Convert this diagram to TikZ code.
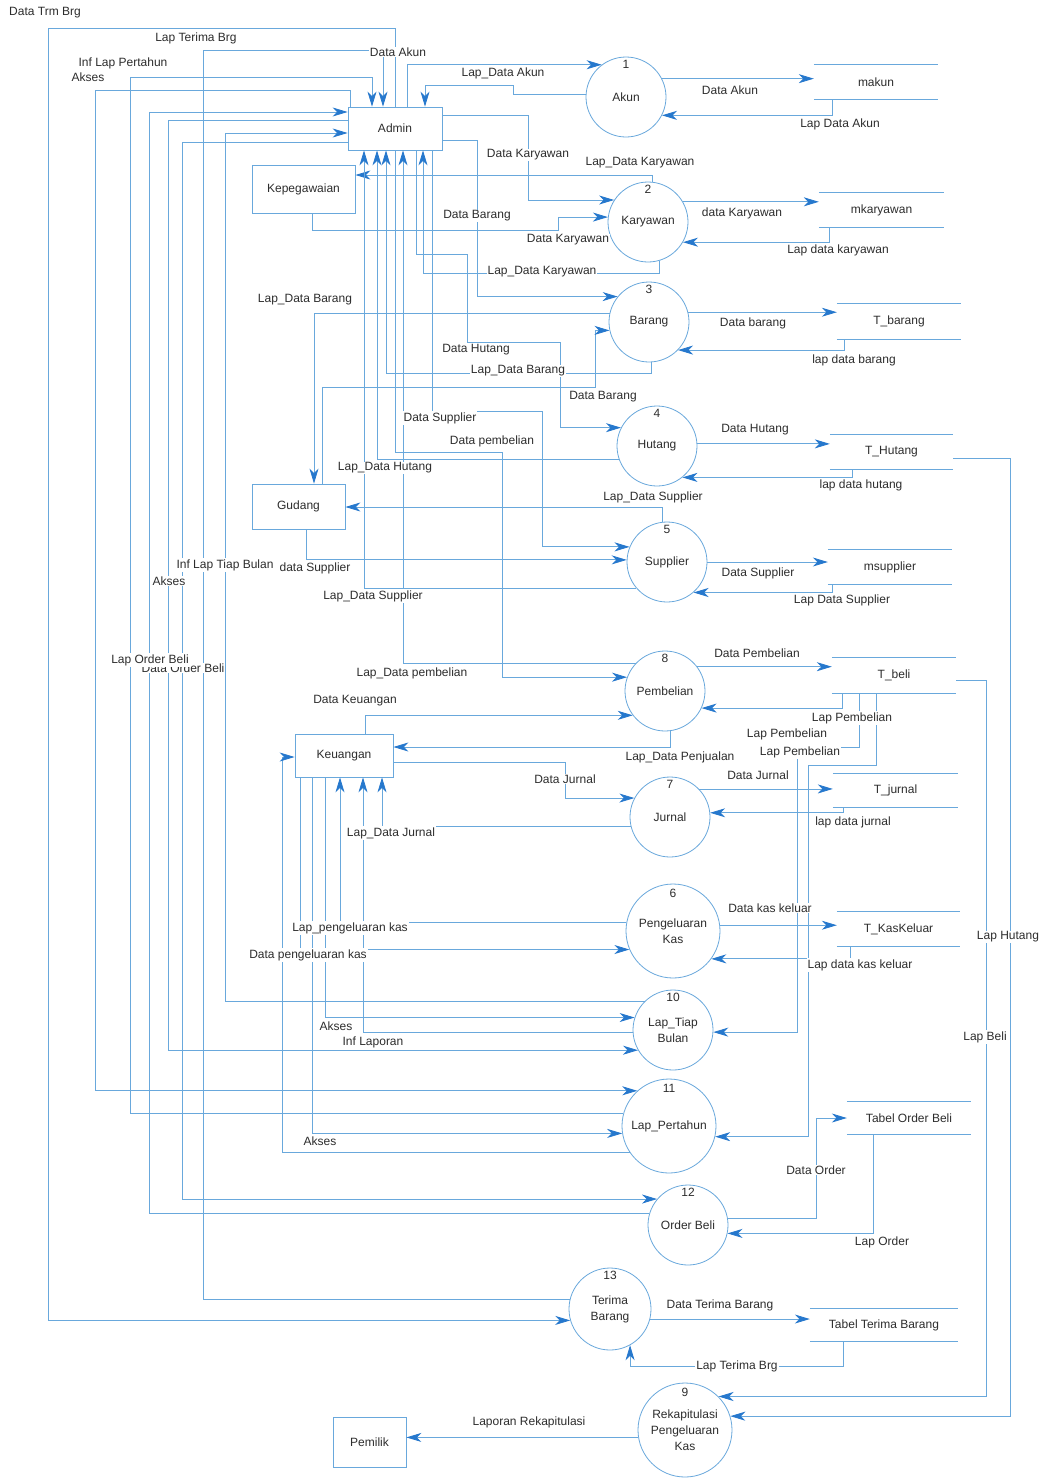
\documentclass[tikz,border=0pt]{standalone}
\usepackage{fontspec}
\setmainfont{Liberation Sans}
\usetikzlibrary{arrows.meta}
\definecolor{flowline}{RGB}{105,168,220}
\definecolor{flowhead}{RGB}{38,120,205}
\definecolor{ink}{RGB}{45,45,45}

\begin{document}
\begin{tikzpicture}[x=1pt,y=-1pt,
  font=\fontsize{12}{16}\selectfont, text=ink,
  link/.style={draw=flowline, line width=0.8pt},
  flow/.style={link, -{Stealth[length=15pt,width=9pt,inset=4.5pt,color=flowhead]}},
  entity/.style={draw=flowline, line width=0.8pt, inner sep=0pt},
  proc/.style={circle, draw=flowline, line width=0.8pt, minimum size=80pt, inner sep=0pt, align=center},
  bigproc/.style={proc, minimum size=94pt},
  num/.style={anchor=center, label distance=-8pt, inner sep=0pt},
  numbig/.style={anchor=center, label distance=-10pt, inner sep=0pt},
  store/.style={inner sep=0pt, append after command={
      (\tikzlastnode.north west) edge[link] (\tikzlastnode.north east)
      (\tikzlastnode.south west) edge[link] (\tikzlastnode.south east)}},
  lbl/.style={fill=white, inner sep=1pt}
]
\useasboundingbox (0,0) rectangle (1049,1478);
\fill[white] (0,0) rectangle (1049,1478);

% external entities
\node[entity, minimum width=94pt, minimum height=43pt] (admin) at (395,128.5) {Admin};
\node[entity, minimum width=103pt, minimum height=48pt] (kepeg) at (303.5,189) {Kepegawaian};
\node[entity, minimum width=93pt, minimum height=45pt] (gudang) at (298.5,506.5) {Gudang};
\node[entity, minimum width=98pt, minimum height=43pt] (keu) at (344,755.5) {Keuangan};
\node[entity, minimum width=73pt, minimum height=50pt] (pemilik) at (369.5,1442) {Pemilik};

% processes
\node[proc, label={[num]90:1}] (p1) at (626,97) {Akun};
\node[proc, label={[num]90:2}] (p2) at (648,222) {Karyawan};
\node[proc, label={[num]90:3}] (p3) at (649,322) {Barang};
\node[proc, label={[num]90:4}] (p4) at (657,446) {Hutang};
\node[proc, label={[num]90:5}] (p5) at (667,562) {Supplier};
\node[proc, label={[num]90:8}] (p8) at (665,691) {Pembelian};
\node[proc, label={[num]90:7}] (p7) at (670,817) {Jurnal};
\node[bigproc, label={[numbig]90:6}] (p6) at (673,931) {Pengeluaran\\Kas};
\node[proc, label={[num]90:10}] (p10) at (673,1030) {Lap\_Tiap\\Bulan};
\node[bigproc, label={[numbig]90:11}] (p11) at (669,1126) {Lap\_Pertahun};
\node[proc, label={[num]90:12}] (p12) at (688,1225) {Order Beli};
\node[proc, minimum size=82pt, label={[num]90:13}] (p13) at (610,1309) {Terima\\Barang};
\node[bigproc, label={[numbig]90:9}] (p9) at (685,1430) {Rekapitulasi\\Pengeluaran\\Kas};

% data stores
\node[store, minimum width=124pt, minimum height=34pt] (makun) at (876,82) {makun};
\node[store, minimum width=125pt, minimum height=34pt] (mkary) at (881.5,210) {mkaryawan};
\node[store, minimum width=124pt, minimum height=35pt] (tbarang) at (899,321.5) {T\_barang};
\node[store, minimum width=123pt, minimum height=34pt] (thutang) at (891.5,452) {T\_Hutang};
\node[store, minimum width=124pt, minimum height=34pt] (msupp) at (890,567) {msupplier};
\node[store, minimum width=124pt, minimum height=35pt] (tbeli) at (894,675.5) {T\_beli};
\node[store, minimum width=125pt, minimum height=33pt] (tjurnal) at (895.5,790.5) {T\_jurnal};
\node[store, minimum width=123pt, minimum height=34pt] (tkas) at (898.5,929) {T\_KasKeluar};
\node[store, minimum width=124pt, minimum height=32pt] (torder) at (909,1118) {Tabel Order Beli};
\node[store, minimum width=148pt, minimum height=32pt] (tterima) at (884,1325) {Tabel Terima Barang};

% flows around Admin: outer loops on the left
\draw[flow] (admin.north) |- (48,28) |- (p13.196);
\draw[flow] (p13.167) -| (203,50) -| ([xshift=-12pt]admin.north);
\draw[flow] (p11.164) -| (130,77) -| ([xshift=-23pt]admin.north);
\draw[flow] ([xshift=3pt]admin.north west) |- (95,90) |- (p11.132);
\draw[flow] (p12.163) -| (149,112) -- (admin.west |- 0,112);
\draw[flow] (admin.west |- 0,120) -- (168,120) |- (p10.210);
\draw[flow] (p10.134) -| (225,133) -- (admin.west |- 0,133);
\draw[flow] (admin.west |- 0,142) -- (182,142) |- (p12.140);

% Admin with processes 1 to 5 and 8
\draw[flow] ([xshift=12pt]admin.north) |- (p1.127);
\draw[flow] (p1.177) -| (513,85) -| ([xshift=30pt]admin.north);
\draw[flow] (admin.east |- 0,115) -- (528,115) |- (p2.147);
\draw[flow] (admin.east |- 0,140) -- (477,140) |- (p3.141);
\draw[flow] (312,0 |- kepeg.south) -- (312,230) -- (558,230) |- (p2.173);
\draw[flow] (p2.84) |- (kepeg.east |- 0,175);
\draw[flow] (p2.287) |- (423,273) -- ([xshift=28pt]admin.south);
\draw[flow] ([xshift=21pt]admin.south) -- (416,254) -- (467,254) -- (467,342) -- (560,342) |- (p4.153);
\draw[flow] (p3.274) |- (386,373) -- ([xshift=-9pt]admin.south);
\draw[flow] (p3.167) -| (314,0 |- gudang.north);
\draw[flow] (322,0 |- gudang.north) -- (322,387) -- (595,387) |- (p3.192);
\draw[flow] (p4.200) -| ([xshift=-18pt]admin.south);
\draw[flow] ([xshift=37pt]admin.south) -- (432,411) -- (542,411) |- (p5.158);
\draw[flow] (admin.south) -- (395,452) -- (502,452) |- (p8.160);
\draw[flow] (p5.96) |- (gudang.east |- 0,507);
\draw[flow] (306,0 |- gudang.south) |- (p5.177);
\draw[flow] (p5.220) -| ([xshift=-31pt]admin.south);
\draw[flow] (p8.136) -| ([xshift=8pt]admin.south);

% Keuangan
\draw[flow] ([xshift=21pt]keu.north) |- (p8.217);
\draw[flow] (p8.277) |- (keu.east |- 0,747);
\draw[flow] (keu.east |- 0,762) -- (565,762) |- (p7.152);
\draw[flow] (p7.193) -| ([xshift=38pt]keu.south);
\draw[flow] (p6.169) -| ([xshift=-4pt]keu.south);
\draw[flow] ([xshift=-44pt]keu.south) |- (p6.203);
\draw[flow] ([xshift=-19pt]keu.south) |- (p10.162);
\draw[flow] (p10.184) -| ([xshift=19pt]keu.south);
\draw[flow] ([xshift=-32pt]keu.south) |- (p11.189);
\draw[flow] (p11.214) -| (282,757) -- (keu.west |- 0,757);

% processes and data stores
\draw[flow] (p1.27) -- (p1.27 -| makun.west);
\draw[flow] (832,0 |- makun.south) |- (p1.333);
\draw[flow] (p2.30) -- (p2.30 -| mkary.west);
\draw[flow] (829,0 |- mkary.south) |- (p2.330);
\draw[flow] (p3.14) -- (p3.14 -| tbarang.west);
\draw[flow] (844,0 |- tbarang.south) |- (p3.316);
\draw[flow] (p4.3) -- (p4.3 -| thutang.west);
\draw[flow] (852,0 |- thutang.south) |- (p4.309);
\draw[flow] (p5.east) -- (p5.east -| msupp.west);
\draw[flow] (832,0 |- msupp.south) |- (p5.311);
\draw[flow] (p8.37) -- (p8.37 -| tbeli.west);
\draw[flow] (842,0 |- tbeli.south) |- (p8.335);
\draw[flow] (859,0 |- tbeli.south) -- (859,747) -- (797,747) |- (p10.357);
\draw[flow] (876,0 |- tbeli.south) -- (876,765) -- (808,765) |- (p11.347);
\draw[flow] (p7.44) -- (p7.44 -| tjurnal.west);
\draw[flow] (843,0 |- tjurnal.south) |- (p7.6);
\draw[flow] (p6.7) -- (p6.7 -| tkas.west);
\draw[flow] (850,0 |- tkas.south) |- (p6.324);
\draw[flow] (p12.9) -| (816,1118) -- (torder.west |- 0,1118);
\draw[flow] (873,0 |- torder.south) |- (p12.348);
\draw[flow] (p13.346) -- (p13.346 -| tterima.west);
\draw[flow] (843,0 |- tterima.south) -- (843,1366) -| (p13.299);
\draw[flow] (thutang.east |- 0,458) -- (1010,458) |- (p9.17);
\draw[flow] (tbeli.east |- 0,680) -- (986,680) |- (p9.45);
\draw[flow] (p9.189) -- (p9.189 -| pemilik.east);

% flow labels
\node[lbl] (t1) at (45,13) {Data Trm Brg};
\node[lbl] (t2) at (196,38) {Lap Terima Brg};
\node[lbl] (t3) at (123,63) {Inf Lap Pertahun};
\node[lbl] (t4) at (88,77) {Akses};
\node[lbl] (t5) at (398,52) {Data Akun};
\node[lbl] (t6) at (503,73) {Lap\_Data Akun};
\node[lbl] (t7) at (730,90) {Data Akun};
\node[lbl] (t8) at (840,124) {Lap Data Akun};
\node[lbl] (t9) at (528,155) {Data Karyawan};
\node[lbl] (t10) at (640,163) {Lap\_Data Karyawan};
\node[lbl] (t11) at (477,216) {Data Barang};
\node[lbl] (t12) at (742,213) {data Karyawan};
\node[lbl] (t13) at (568,240) {Data Karyawan};
\node[lbl] (t14) at (838,250) {Lap data karyawan};
\node[lbl] (t15) at (542,272) {Lap\_Data Karyawan};
\node[lbl] (t16) at (305,300) {Lap\_Data Barang};
\node[lbl] (t17) at (753,323) {Data barang};
\node[lbl] (t18) at (476,350) {Data Hutang};
\node[lbl] (t19) at (854,360) {lap data barang};
\node[lbl] (t20) at (518,371) {Lap\_Data Barang};
\node[lbl] (t21) at (603,397) {Data Barang};
\node[lbl] (t22) at (440,418) {Data Supplier};
\node[lbl] (t23) at (755,430) {Data Hutang};
\node[lbl] (t24) at (492,441) {Data pembelian};
\node[lbl] (t25) at (385,468) {Lap\_Data Hutang};
\node[lbl] (t26) at (861,485) {lap data hutang};
\node[lbl] (t27) at (653,497) {Lap\_Data Supplier};
\node[lbl] (t28) at (225,565) {Inf Lap Tiap Bulan};
\node[lbl] (t29) at (315,568) {data Supplier};
\node[lbl] (t30) at (758,573) {Data Supplier};
\node[lbl] (t31) at (169,581) {Akses};
\node[lbl] (t32) at (373,596) {Lap\_Data Supplier};
\node[lbl] (t33) at (842,600) {Lap Data Supplier};
\node[lbl] (t34) at (757,653) {Data Pembelian};
\node[lbl] (t36) at (183,668) {Data Order Beli};
\node[lbl] (t35) at (150,660) {Lap Order Beli};
\node[lbl] (t37) at (412,673) {Lap\_Data pembelian};
\node[lbl] (t38) at (355,701) {Data Keuangan};
\node[lbl] (t39) at (852,718) {Lap Pembelian};
\node[lbl] (t40) at (787,734) {Lap Pembelian};
\node[lbl] (t41) at (800,752) {Lap Pembelian};
\node[lbl] (t42) at (680,757) {Lap\_Data Penjualan};
\node[lbl] (t43) at (758,775) {Data Jurnal};
\node[lbl] (t44) at (565,779) {Data Jurnal};
\node[lbl] (t45) at (853,822) {lap data jurnal};
\node[lbl] (t46) at (391,833) {Lap\_Data Jurnal};
\node[lbl] (t47) at (770,908) {Data kas keluar};
\node[lbl] (t48) at (350,928) {Lap\_pengeluaran kas};
\node[lbl] (t49) at (1008,937) {Lap Hutang};
\node[lbl] (t50) at (308,955) {Data pengeluaran kas};
\node[lbl] (t51) at (860,965) {Lap data kas keluar};
\node[lbl] (t52) at (336,1026) {Akses};
\node[lbl] (t53) at (373,1042) {Inf Laporan};
\node[lbl] (t54) at (985,1037) {Lap Beli};
\node[lbl] (t55) at (320,1141) {Akses};
\node[lbl] (t56) at (816,1170) {Data Order};
\node[lbl] (t57) at (882,1242) {Lap Order};
\node[lbl] (t58) at (720,1305) {Data Terima Barang};
\node[lbl] (t59) at (737,1366) {Lap Terima Brg};
\node[lbl] (t60) at (529,1422) {Laporan Rekapitulasi};
\end{tikzpicture}
\end{document}
